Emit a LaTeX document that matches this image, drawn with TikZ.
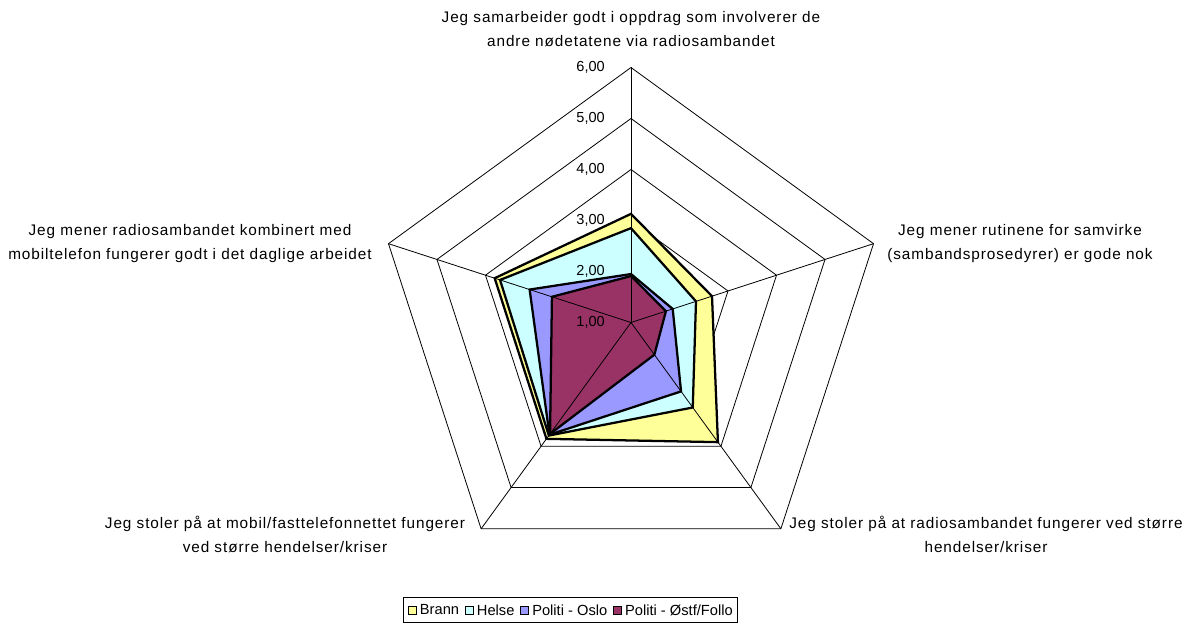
\documentclass[tikz,border=0pt]{standalone}
\usepackage{fontspec}
\setmainfont{Liberation Sans}
\newfontfamily\lblfont[LetterSpace=6]{Liberation Sans}
\usetikzlibrary{fit,positioning}
\definecolor{brann}{HTML}{FFFF99}
\definecolor{helse}{HTML}{CCFFFF}
\definecolor{oslo}{HTML}{9999FF}
\definecolor{ostf}{HTML}{993366}
\def\series#1#2#3#4#5#6{\filldraw[series,fill=#1] (90:{(#2-1)*51}) -- (18:{(#3-1)*51}) -- (-54:{(#4-1)*51}) -- (-126:{(#5-1)*51}) -- (162:{(#6-1)*51}) -- cycle;}
\begin{document}
\begin{tikzpicture}[x=0.75pt,y=0.75pt,
  gridline/.style={line width=0.6pt,black},
  series/.style={line width=1.7pt,black,line join=miter},
  lbl/.style={font=\lblfont\fontsize{11.5}{18}\selectfont,align=center,inner sep=0},
  ticklbl/.style={font=\fontsize{10.9}{13}\selectfont,anchor=east,inner sep=0},
  mk/.style={draw=black,line width=0.5pt,minimum size=6pt,inner sep=0},
  legtext/.style={font=\fontsize{11}{13}\selectfont,inner sep=0}]
\useasboundingbox (-631,-304.5) rectangle (565,322.5);
\fill[white] (-631,-304.5) rectangle (565,322.5);
% rings
\foreach \k in {1,...,5}
  \draw[gridline] (90:{51*\k}) -- (18:{51*\k}) -- (-54:{51*\k}) -- (-126:{51*\k}) -- (162:{51*\k}) -- cycle;
% series
\series{brann}{3.13}{2.67}{3.90}{3.82}{3.81}
\series{helse}{2.85}{2.34}{3.06}{3.74}{3.70}
\series{oslo}{1.95}{1.86}{2.67}{3.72}{3.09}
\series{ostf}{1.91}{1.72}{1.78}{3.70}{2.63}
% spokes
\coordinate (c) at (0,0);
\foreach \a in {90,18,-54,-126,162}
  \draw[gridline] (c) -- (\a:255);
% tick labels
\foreach \k/\t in {1/{1,00},2/{2,00},3/{3,00},4/{4,00},5/{5,00},6/{6,00}}
  \node[ticklbl] (tick\k) at (-26,{51*(\k-1)}) {\t};
% axis labels
\node[lbl] (ltop) at (0,293.5) {Jeg samarbeider godt i oppdrag som involverer de\\andre nødetatene via radiosambandet};
\node[lbl] (lright) at (389,79) {Jeg mener rutinene for samvirke\\(sambandsprosedyrer) er gode nok};
\node[lbl] (llr) at (355,-211.5) {Jeg stoler på at radiosambandet fungerer ved større\\hendelser/kriser};
\node[lbl] (lll) at (-346,-211.5) {Jeg stoler på at mobil/fasttelefonnettet fungerer\\ved større hendelser/kriser};
\node[lbl] (lleft) at (-441,79) {Jeg mener radiosambandet kombinert med\\mobiltelefon fungerer godt i det daglige arbeidet};
% legend
\node[mk,fill=brann] (m1) at (-219,-287.5) {};
\node[legtext,right=2.5pt of m1] (t1) {Brann};
\node[mk,fill=helse,right=4pt of t1] (m2) {};
\node[legtext,right=2.5pt of m2] (t2) {Helse};
\node[mk,fill=oslo,right=4pt of t2] (m3) {};
\node[legtext,right=2.5pt of m3] (t3) {Politi - Oslo};
\node[mk,fill=ostf,right=4pt of t3] (m4) {};
\node[legtext,right=2.5pt of m4] (t4) {Politi - Østf/Follo};
\node[draw=black,line width=0.6pt,fit=(m1)(t4),inner xsep=3pt,inner ysep=5pt] (legend) {};
\end{tikzpicture}
\end{document}
